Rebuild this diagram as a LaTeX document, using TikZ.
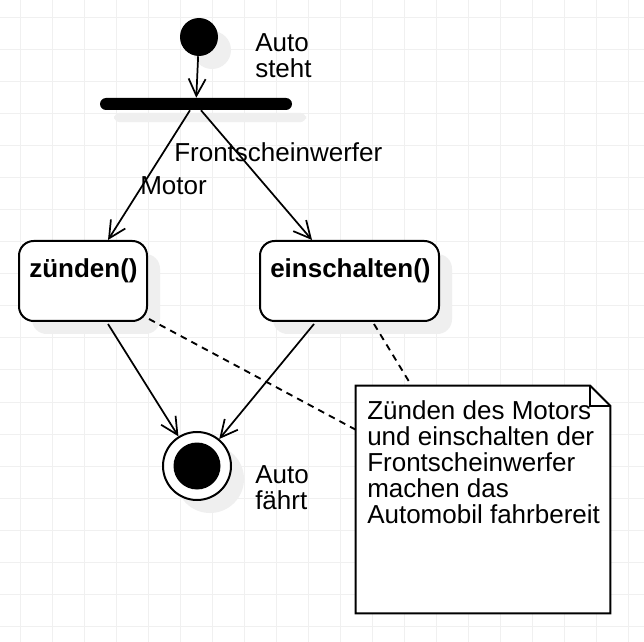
\documentclass[tikz,border=0pt]{standalone}
\usepackage{fontspec}
\setmainfont{Liberation Sans}
\usetikzlibrary{arrows.meta, positioning, calc}
\definecolor{gridgray}{HTML}{F0F0F0}
\definecolor{shadowgray}{HTML}{EFEFEF}

\begin{document}
\begin{tikzpicture}[
    x=0.75pt, y=-0.75pt,
    txt/.style={anchor=base west, inner sep=0pt, align=left, font=\fontsize{19.5}{19.5}\selectfont},
    state/.style={rectangle, draw, line width=1.5pt, rounded corners=11pt, fill=white, minimum height=60pt, inner sep=0pt},
    shade/.style={fill=shadowgray, draw=none, inner sep=0pt},
    arrow/.style={-{Straight Barb[length=12.75pt, width=12.75pt]}, line width=1.3pt},
    comment/.style={dash pattern=on 5pt off 4pt, line width=1.4pt},
    gridline/.style={draw=gridgray, line width=0.75pt}
]
\useasboundingbox (0,0) rectangle (644,642);
\fill[white] (0,0) rectangle (644,642);
\foreach \x in {20,52,...,628} \draw[gridline] (\x,0) -- (\x,642);
\foreach \y in {18,50,...,626} \draw[gridline] (0,\y) -- (644,\y);

% shadows
\node[shade, circle, minimum size=28.5pt] (init-shadow) at (212,50) {};
\node[shade, rectangle, rounded corners=4.5pt, minimum width=144pt, minimum height=7pt] (bar-shadow) at (210,117.5) {};
\node[shade, rectangle, rounded corners=11pt, minimum width=96pt, minimum height=60pt] (zuenden-shadow) at (96,294) {};
\node[shade, rectangle, rounded corners=11pt, minimum width=134.25pt, minimum height=60pt] (einschalten-shadow) at (362.5,294) {};
\node[shade, circle, minimum size=51pt] (final-shadow) at (210,479) {};

\node[circle, fill, minimum size=28.5pt, inner sep=0pt] (init) at (199,37) {};
\node[rectangle, fill, rounded corners=4.5pt, minimum width=144pt, minimum height=9pt, inner sep=0pt] (bar) at (196,104) {};
\node[state, minimum width=96pt] (zuenden) at (83,281) {};
\node[state, minimum width=134.25pt] (einschalten) at (349.5,281) {};
\node[circle, draw, fill=white, line width=1.5pt, minimum size=51pt, inner sep=0pt] (final) at (197,466) {};
\node[circle, fill, minimum size=35.25pt, inner sep=0pt] (final-dot) at (final) {};
\node[minimum width=190.5pt, minimum height=170.25pt, inner sep=0pt] (note) at (483,499.5) {};

\node[txt] (steht) at (255,78) {Auto\\steht};
\node[txt] (faehrt) at (255,509) {Auto\\fährt};
\node[txt] (front) at (174,162) {Frontscheinwerfer};
\node[txt] (motor) at (140,195) {Motor};
\node[txt, font=\fontsize{19.5}{19.5}\selectfont\bfseries] (zuenden-label) at (29,277) {zünden()};
\node[txt, font=\fontsize{19.5}{19.5}\selectfont\bfseries] (einschalten-label) at (270,277) {einschalten()};

\draw[arrow] (init) -- (bar);
\draw[arrow] ($(bar.south)+(-6,0)$) -- ($(zuenden.north)+(25,0)$);
\draw[arrow] ($(bar.south)+(5,0)$) -- ($(einschalten.north)+(-37.5,0)$);
\draw[arrow] ($(zuenden.south)+(25,2)$) -- (final);
\draw[arrow] ($(einschalten.south)+(-35.5,2)$) -- (final);

% note with folded corner
\draw[line width=1.5pt, fill=white] (note.north west) -- ($(note.north east)+(-20,0)$)
    -- ($(note.north east)+(0,20)$) -- (note.south east) -- (note.south west) -- cycle;
\draw[line width=1.5pt] ($(note.north east)+(-20,0)$) -- ($(note.north east)+(-20,20)$)
    -- ($(note.north east)+(0,20)$);
\node[txt] (note-text) at (367,523) {Zünden des Motors\\und einschalten der\\Frontscheinwerfer\\machen das\\Automobil fahrbereit};

\draw[comment] ($(zuenden.south east)+(1,-3)$) -- ($(note.north west)+(0,44)$);
\draw[comment] ($(einschalten.south)+(24.5,2)$) -- ($(note.north west)+(54,-3)$);
\end{tikzpicture}
\end{document}
